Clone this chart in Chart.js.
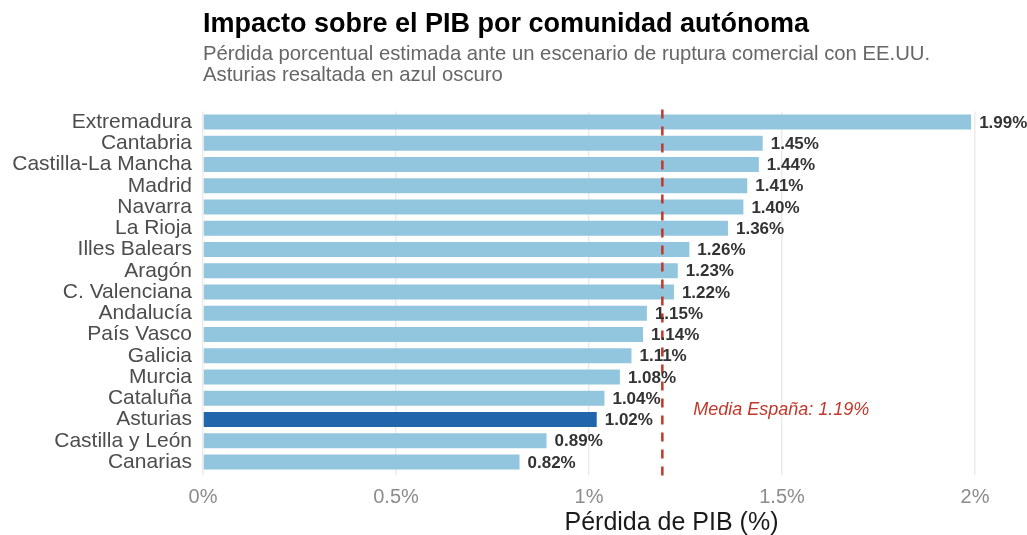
<!DOCTYPE html>
<html><head><meta charset="utf-8">
<script src="https://cdn.jsdelivr.net/npm/chart.js@4/dist/chart.umd.min.js"></script>
<style>html,body{margin:0;padding:0;background:#fff;}#wrap{width:1027px;height:535px;}</style>
</head><body><div id="wrap"><canvas id="c" width="1027" height="535"></canvas></div>
<script>
const categories = ['Extremadura','Cantabria','Castilla-La Mancha','Madrid','Navarra','La Rioja','Illes Balears','Aragón','C. Valenciana','Andalucía','País Vasco','Galicia','Murcia','Cataluña','Asturias','Castilla y León','Canarias'];
const values = [1.99,1.45,1.44,1.41,1.40,1.36,1.26,1.23,1.22,1.15,1.14,1.11,1.08,1.04,1.02,0.89,0.82];
const highlight = 'Asturias';
const meanValue = 1.19;
const meanLabel = 'Media España: 1.19%';
const meanLabelX = 1.27;
const meanLabelBetween = ['Cataluña','Asturias'];
const xTicks = [0,0.5,1,1.5,2];
const xTickLabels = ['0%','0.5%','1%','1.5%','2%'];
const titleText = 'Impacto sobre el PIB por comunidad autónoma';
const subtitleLines = ['Pérdida porcentual estimada ante un escenario de ruptura comercial con EE.UU.','Asturias resaltada en azul oscuro'];
const xTitle = 'Pérdida de PIB (%)';

const FONT = '"Liberation Sans", Arial, sans-serif';
const LIGHT = '#92c5de', DARK = '#2166ac', RED = '#c0392b';

const overlay = {
  id: 'overlay',
  beforeDraw(chart) {
    const ctx = chart.ctx;
    ctx.save();
    ctx.fillStyle = '#fff';
    ctx.fillRect(0,0,chart.width,chart.height);
    ctx.textAlign = 'left';
    ctx.textBaseline = 'alphabetic';
    ctx.fillStyle = '#000';
    ctx.font = 'bold 27px ' + FONT;
    ctx.fillText(titleText, 203, 32);
    ctx.fillStyle = '#666';
    ctx.font = '20.3px ' + FONT;
    ctx.fillText(subtitleLines[0], 203, 60);
    ctx.fillText(subtitleLines[1], 203, 81);
    ctx.fillStyle = '#1a1a1a';
    ctx.font = '25px ' + FONT;
    ctx.textAlign = 'center';
    ctx.fillText(xTitle, 671.5, 529.5);
    ctx.restore();
  },
  afterDatasetsDraw(chart) {
    const ctx = chart.ctx, xs = chart.scales.x, ys = chart.scales.y, ca = chart.chartArea;
    ctx.save();
    const mx = xs.getPixelForValue(meanValue);
    ctx.strokeStyle = RED;
    ctx.lineWidth = 2.5;
    ctx.setLineDash([9,8]);
    ctx.beginPath();
    ctx.moveTo(mx, ca.top - 2);
    ctx.lineTo(mx, ca.bottom + 3);
    ctx.stroke();
    ctx.setLineDash([]);
    const meta = chart.getDatasetMeta(0);
    ctx.font = 'bold 17px ' + FONT;
    ctx.fillStyle = '#333';
    ctx.textAlign = 'left';
    ctx.textBaseline = 'middle';
    meta.data.forEach((bar, i) => {
      ctx.fillText(values[i].toFixed(2) + '%', bar.x + 8, bar.y + 1);
    });
    const y1 = ys.getPixelForValue(categories.indexOf(meanLabelBetween[0]));
    const y2 = ys.getPixelForValue(categories.indexOf(meanLabelBetween[1]));
    ctx.font = 'italic 18px ' + FONT;
    ctx.fillStyle = RED;
    ctx.fillText(meanLabel, xs.getPixelForValue(meanLabelX), (y1 + y2) / 2 + 1);
    ctx.restore();
  }
};

new Chart(document.getElementById('c'), {
  type: 'bar',
  data: {
    labels: categories,
    datasets: [{
      data: values,
      backgroundColor: categories.map(c => c === highlight ? DARK : LIGHT),
      borderWidth: 0,
      categoryPercentage: 1,
      barPercentage: 0.7
    }]
  },
  options: {
    indexAxis: 'y',
    responsive: false,
    animation: false,
    devicePixelRatio: 1,
    layout: { padding: { top: 111.4, right: 13.4, bottom: 0, left: 0 } },
    plugins: { legend: { display: false }, tooltip: { enabled: false }, title: { display: false } },
    scales: {
      x: {
        type: 'linear', min: 0, max: 2.1,
        afterBuildTicks: s => { s.ticks = xTicks.map(v => ({ value: v })); },
        afterFit: s => { s.height = 535 - 472.6; },
        border: { display: false },
        grid: { color: '#ebebeb', lineWidth: 1.5, drawTicks: true, tickLength: 3, tickColor: '#ebebeb' },
        ticks: {
          font: { family: FONT, size: 20 }, color: '#8c8c8c', padding: 10,
          callback: v => xTickLabels[xTicks.indexOf(v)]
        },
        title: { display: false }
      },
      y: {
        type: 'category',
        afterFit: s => { s.width = 203; },
        border: { display: false },
        grid: { display: false, drawTicks: false },
        ticks: { font: { family: FONT, size: 21 }, color: '#4d4d4d', padding: 11, autoSkip: false }
      }
    }
  },
  plugins: [overlay]
});
</script></body></html>
